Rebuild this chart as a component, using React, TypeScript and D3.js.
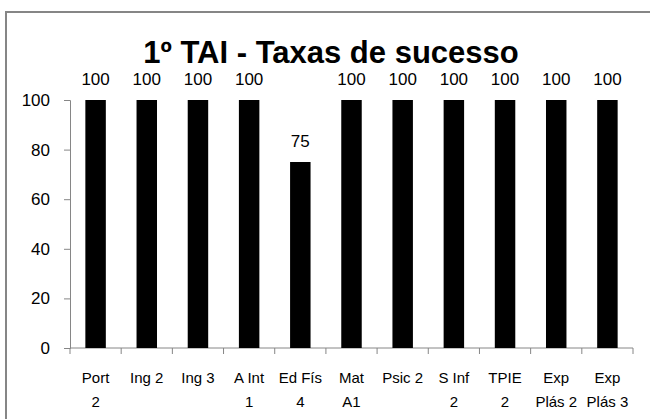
import { useEffect, useRef } from 'react';
import * as d3 from 'd3';

const categories = [
  'Port\n2',
  'Ing 2',
  'Ing 3',
  'A Int\n1',
  'Ed Fís\n4',
  'Mat\nA1',
  'Psic 2',
  'S Inf\n2',
  'TPIE\n2',
  'Exp\nPlás 2',
  'Exp\nPlás 3',
];
const values = [100, 100, 100, 100, 75, 100, 100, 100, 100, 100, 100];
const yTicks = [0, 20, 40, 60, 80, 100];
const title = '1º TAI - Taxas de sucesso';

const FONT = '"Liberation Sans", Arial, sans-serif';

export default function App() {
  const svgRef = useRef<SVGSVGElement>(null);

  useEffect(() => {
    if (!svgRef.current) return;
    const svg = d3.select(svgRef.current);
    svg.selectAll('*').remove();

    const left = 70;
    const right = 633;
    const top = 100;
    const bottom = 348;

    // chart border (only top/left visible in the frame)
    svg
      .append('rect')
      .attr('x', 6)
      .attr('y', 12)
      .attr('width', 800)
      .attr('height', 600)
      .attr('fill', '#fff')
      .attr('stroke', '#868686')
      .attr('stroke-width', 2);

    const x = d3.scaleBand<string>().domain(categories).range([left, right]).paddingInner(0.6).paddingOuter(0.3);
    const xb = d3.scaleBand<string>().domain(categories).range([left, right]);
    const y = d3.scaleLinear().domain([0, 100]).range([bottom, top]);

    // title
    svg
      .append('text')
      .attr('x', 331)
      .attr('y', 63)
      .attr('text-anchor', 'middle')
      .attr('font-family', FONT)
      .attr('font-weight', 'bold')
      .attr('font-size', '31px')
      .attr('fill', '#000')
      .text(title);

    // y axis
    const yAxisG = svg
      .append('g')
      .attr('transform', `translate(${left},0)`)
      .call(d3.axisLeft(y).tickValues(yTicks).tickSize(6).tickPadding(14));
    yAxisG.selectAll('.domain, .tick line').attr('stroke', '#868686');
    yAxisG
      .selectAll('text')
      .attr('fill', '#000')
      .attr('font-family', FONT)
      .attr('font-size', '17px');

    // x axis baseline and ticks at band edges
    svg
      .append('line')
      .attr('x1', left)
      .attr('x2', right)
      .attr('y1', bottom)
      .attr('y2', bottom)
      .attr('stroke', '#868686');
    const edges = categories.map((c) => xb(c) ?? 0).concat([right]);
    svg
      .append('g')
      .selectAll('line')
      .data(edges)
      .join('line')
      .attr('x1', (d) => d)
      .attr('x2', (d) => d)
      .attr('y1', bottom)
      .attr('y2', bottom + 6)
      .attr('stroke', '#868686');

    // bars
    svg
      .append('g')
      .selectAll('rect')
      .data(values)
      .join('rect')
      .attr('x', (_, i) => x(categories[i]) ?? 0)
      .attr('y', (d) => y(d))
      .attr('width', x.bandwidth())
      .attr('height', (d) => bottom - y(d))
      .attr('fill', '#000');

    // value labels
    svg
      .append('g')
      .selectAll('text')
      .data(values)
      .join('text')
      .attr('x', (_, i) => (xb(categories[i]) ?? 0) + xb.bandwidth() / 2)
      .attr('y', (d) => y(d) - 15)
      .attr('text-anchor', 'middle')
      .attr('font-family', FONT)
      .attr('font-size', '17px')
      .attr('fill', '#000')
      .text((d) => d);

    // category labels
    const lab = svg
      .append('g')
      .selectAll('text')
      .data(categories)
      .join('text')
      .attr('x', (d) => (xb(d) ?? 0) + xb.bandwidth() / 2)
      .attr('y', 383)
      .attr('text-anchor', 'middle')
      .attr('font-family', FONT)
      .attr('font-size', '15px')
      .attr('fill', '#000');
    lab
      .selectAll('tspan')
      .data((d) => d.split('\n').map((s) => ({ s, x: (xb(d) ?? 0) + xb.bandwidth() / 2 })))
      .join('tspan')
      .attr('x', (d) => d.x)
      .attr('dy', (_, i) => (i === 0 ? 0 : 24))
      .text((d) => d.s);
  }, []);

  return (
    <svg
      ref={svgRef}
      width={650}
      height={419}
      style={{ position: 'absolute', left: 0, top: 0, background: '#fff' }}
    />
  );
}
